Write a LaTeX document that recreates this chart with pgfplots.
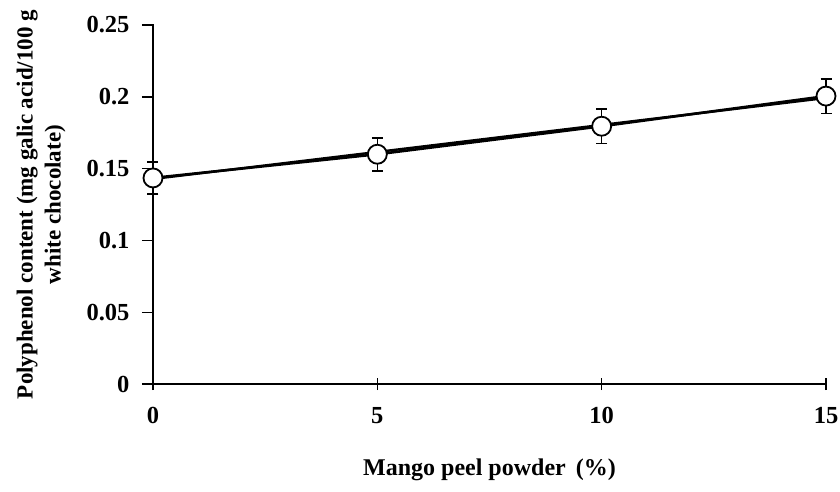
\documentclass[border=0pt]{standalone}
\usepackage{pgfplots}
\pgfplotsset{compat=1.18}
\usepackage{fontspec}
\setmainfont{Liberation Serif}
\begin{document}
\begin{tikzpicture}
\begin{axis}[
  scale only axis, width=673pt, height=359pt,
  xmin=0, xmax=15, ymin=0, ymax=0.25,
  clip=false,
  axis lines*=left,
  axis line style={line width=1.4pt},
  xtick={0,5,10,15},
  ytick={0,0.05,0.1,0.15,0.2,0.25},
  yticklabels={0,0.05,0.1,0.15,0.2,0.25},
  xticklabels={0,5,10,15},
  tick align=center, major tick length=12pt,
  tick style={black, line width=1.4pt},
  y tick style={xshift=-5pt},
  ticklabel style={font=\fontsize{24.5}{26}\selectfont\bfseries},
  xticklabel style={yshift=-14pt},
  yticklabel style={xshift=-14pt},
  xlabel={Mango peel powder\, (\%)},
  ylabel={Polyphenol content (mg galic acid/100 g\\white chocolate)},
  label style={font=\fontsize{23}{28}\selectfont\bfseries, align=center},
  xlabel style={at={(axis description cs:0.5,-0.2396)}, anchor=center, font=\fontsize{24}{28}\selectfont\bfseries},
  ylabel style={at={(axis description cs:-0.1664,0.5)}, anchor=center},
]
\addplot[black, line width=2.6pt, mark=*, mark size=9.5pt,
  mark options={fill=white, draw=black, line width=1.8pt},
  error bars/.cd, y dir=both, y explicit,
  error bar style={line width=1.6pt, black},
  error mark options={rotate=90, mark size=5.5pt, line width=1.6pt, black}]
  coordinates {
  (0,0.1435) +- (0,0.011)
  (5,0.1600) +- (0,0.0115)
  (10,0.1795) +- (0,0.012)
  (15,0.2005) +- (0,0.012)
  };
\addplot[black, line width=2.4pt, mark=none] coordinates {(0,0.1428) (15,0.1992)};
\end{axis}
\pgfresetboundingbox
\path (current axis.south west) ++(-153pt,-107pt) rectangle ++(840pt,491pt);
\end{tikzpicture}
\end{document}
